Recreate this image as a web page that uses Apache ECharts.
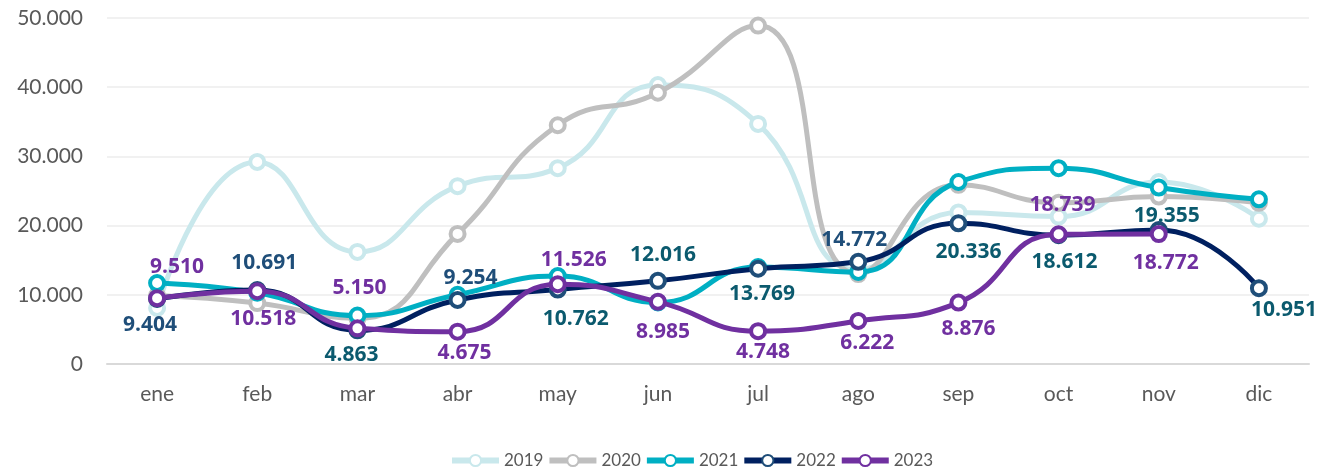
<!DOCTYPE html>
<html>
<head>
<meta charset="utf-8">
<script src="https://cdn.jsdelivr.net/npm/echarts@6/dist/echarts.min.js"></script>
<style>
html,body{margin:0;padding:0;background:#fff;}
#c{width:1340px;height:470px;}
</style>
</head>
<body>
<div id="c"></div>
<script>
const months = ['ene','feb','mar','abr','may','jun','jul','ago','sep','oct','nov','dic'];
const years = ['2019','2020','2021','2022','2023'];
const v2019 = [8100, 29200, 16200, 25700, 28300, 40300, 34700, 13600, 21900, 21300, 26300, 21000];
const v2020 = [9900, 8800, 6600, 18800, 34500, 39200, 48900, 13000, 25900, 23300, 24200, 23300];
const v2021 = [11700, 10300, 7000, 10000, 12700, 8900, 14000, 13300, 26300, 28300, 25500, 23800];
const v2022 = [9404, 10691, 4863, 9254, 10762, 12016, 13769, 14772, 20336, 18612, 19355, 10951];
const v2023 = [9510, 10518, 5150, 4675, 11526, 8985, 4748, 6222, 8876, 18739, 18772, null];
const yTicks = [0, 10000, 20000, 30000, 40000, 50000];

function fmt(v){ return String(v).replace(/\B(?=(\d{3})+(?!\d))/g, '.'); }

// label placement (style, not data)
const off2022 = [[-7,26],[7,-27],[-6,25],[13,-22],[18,29],[5,-26],[4,25],[-4,-22],[10,29],[6,27],[8,-14],[25,22]];
const col2022 = ['#1F4E79','#1F4E79','#0B5A6E','#1F4E79','#0B5A6E','#0B5A6E','#0B5A6E','#1F4E79','#0B5A6E','#0B5A6E','#0B5A6E','#0B5A6E'];
const off2023 = [[20,-31],[6,28],[2,-40],[7,21],[16,-24],[5,30],[5,21],[9,22],[10,26],[4,-29],[7,29],[0,0]];

function labelled(vals, offs, cols){
  return vals.map((v,i)=> v==null ? null : {
    value: v,
    label: {
      show: true, position: 'inside', offset: offs[i],
      color: cols ? cols[i] : '#7030A0',
      fontFamily: 'Open Sans', fontWeight: 700, fontSize: 21,
      align: 'center', verticalAlign: 'middle',
      formatter: fmt(v)
    }
  });
}

function mk(name, data, lineColor, markColor, z){
  return {
    name, type: 'line', data, smooth: 0.5, z,
    symbol: 'circle', symbolSize: 14,
    lineStyle: {color: lineColor, width: 5},
    itemStyle: {color: '#fff', borderColor: markColor, borderWidth: 4},
    emphasis: {disabled: true},
    label: {show: false, fontWeight: 700},
    connectNulls: false
  };
}

const chart = echarts.init(document.getElementById('c'));
chart.setOption({
  animation: false,
  backgroundColor: '#fff',
  grid: {left: 107, right: 31, top: 18, bottom: 106, containLabel: false},
  legend: {
    data: years, top: 447, left: 444, itemWidth: 47, itemHeight: 14, itemGap: 3,
    lineStyle: {width: 6},
    textStyle: {fontFamily: 'Lato', fontSize: 17, color: '#595959'}
  },
  xAxis: {
    type: 'category', data: months, boundaryGap: true,
    axisLine: {lineStyle: {color: '#D9D9D9', width: 2}},
    axisTick: {show: false},
    axisLabel: {fontFamily: 'Lato', fontSize: 21, color: '#595959', margin: 20}
  },
  yAxis: {
    type: 'value', min: 0, max: 50000, interval: 10000,
    axisLine: {show: false}, axisTick: {show: false},
    splitLine: {lineStyle: {color: '#EDEDED', width: 1.5}},
    axisLabel: {fontFamily: 'Lato', fontSize: 21, color: '#595959', margin: 24,
      formatter: v => yTicks.includes(v) ? fmt(v) : ''}
  },
  series: [
    mk('2019', v2019, '#C9E8EC', '#C9E8EC', 2),
    mk('2020', v2020, '#BFBFBF', '#BFBFBF', 3),
    mk('2021', v2021, '#00AFC3', '#00AFC3', 4),
    mk('2022', labelled(v2022, off2022, col2022), '#002060', '#1F4E79', 5),
    mk('2023', labelled(v2023, off2023, null), '#7030A0', '#7030A0', 6)
  ]
});
</script>
</body>
</html>
